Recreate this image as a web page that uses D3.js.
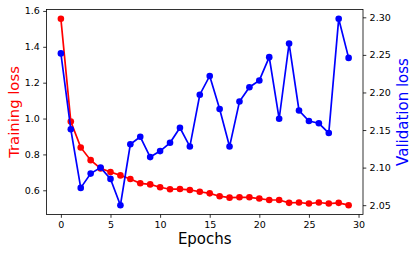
<!DOCTYPE html>
<html><head><meta charset="utf-8">
<script src="https://cdn.jsdelivr.net/npm/d3@7"></script>
<style>body{margin:0;background:#fff}svg{display:block}text{font-family:"DejaVu Sans",sans-serif}</style>
</head><body>
<svg id="c" width="416" height="256"></svg>
<script>
const epochs = d3.range(0, 30);
const trainLoss = [1.556,0.983,0.839,0.768,0.722,0.702,0.683,0.663,0.639,0.633,0.617,0.606,0.607,0.602,0.592,0.583,0.567,0.559,0.561,0.561,0.554,0.546,0.546,0.530,0.532,0.526,0.532,0.526,0.530,0.517];
const valLoss = [2.252,2.151,2.073,2.092,2.100,2.085,2.050,2.131,2.141,2.114,2.122,2.133,2.153,2.128,2.197,2.222,2.178,2.128,2.188,2.207,2.216,2.247,2.165,2.265,2.176,2.162,2.159,2.146,2.298,2.246];
const xTicks = [0,5,10,15,20,25,30];
const leftTicks = [0.6,0.8,1.0,1.2,1.4,1.6];
const rightTicks = [2.05,2.10,2.15,2.20,2.25,2.30];
const xLabel = "Epochs", leftLabel = "Training loss", rightLabel = "Validation loss";

const L = 46.5, R = 363, T = 9.5, B = 214.5;
const svg = d3.select("#c");
function pad(ext){const r=ext[1]-ext[0];return [ext[0]-0.05*r, ext[1]+0.05*r];}
const x = d3.scaleLinear().domain(pad(d3.extent(epochs))).range([L, R]);
const yL = d3.scaleLinear().domain(pad(d3.extent(trainLoss))).range([B, T]);
const yR = d3.scaleLinear().domain(pad(d3.extent(valLoss))).range([B, T]);

function styleAxis(g){
  g.selectAll("path.domain").remove();
  g.selectAll("line").attr("stroke","#000").attr("stroke-width",0.8);
  g.selectAll("text").attr("font-size","9.5px").attr("fill","#000").attr("font-family","DejaVu Sans");
}
svg.append("g").attr("transform",`translate(0,${B})`)
  .call(d3.axisBottom(x).tickValues(xTicks).tickFormat(d3.format("d")).tickSize(3.3).tickPadding(3.3)).call(styleAxis);
svg.append("g").attr("transform",`translate(${L},0)`)
  .call(d3.axisLeft(yL).tickValues(leftTicks).tickFormat(d3.format(".1f")).tickSize(3.3).tickPadding(3.3)).call(styleAxis);
svg.append("g").attr("transform",`translate(${R},0)`)
  .call(d3.axisRight(yR).tickValues(rightTicks).tickFormat(d3.format(".2f")).tickSize(3.3).tickPadding(3.3)).call(styleAxis);

const lineT = d3.line().x((d,i)=>x(epochs[i])).y(d=>yL(d));
svg.append("path").datum(trainLoss).attr("d",lineT).attr("fill","none").attr("stroke","#ff0000").attr("stroke-width",1.7);
svg.append("g").selectAll("circle").data(trainLoss).join("circle")
  .attr("cx",(d,i)=>x(epochs[i])).attr("cy",d=>yL(d)).attr("r",3.3).attr("fill","#ff0000");
const lineV = d3.line().x((d,i)=>x(epochs[i])).y(d=>yR(d));
svg.append("path").datum(valLoss).attr("d",lineV).attr("fill","none").attr("stroke","#0000ff").attr("stroke-width",1.7);
svg.append("g").selectAll("circle").data(valLoss).join("circle")
  .attr("cx",(d,i)=>x(epochs[i])).attr("cy",d=>yR(d)).attr("r",3.3).attr("fill","#0000ff");

svg.append("rect").attr("x",L).attr("y",T).attr("width",R-L).attr("height",B-T)
  .attr("fill","none").attr("stroke","#000").attr("stroke-width",0.8);

svg.append("text").attr("x",(L+R)/2).attr("y",243.5).attr("text-anchor","middle")
  .attr("font-size","15px").attr("fill","#000").text(xLabel);
svg.append("text").attr("transform",`translate(18.5,${(T+B)/2}) rotate(-90)`).attr("text-anchor","middle")
  .attr("font-size","14.8px").attr("fill","#ff0000").text(leftLabel);
svg.append("text").attr("transform",`translate(407.5,${(T+B)/2}) rotate(-90)`).attr("text-anchor","middle")
  .attr("font-size","15px").attr("fill","#0000ff").text(rightLabel);
</script>
</body></html>
